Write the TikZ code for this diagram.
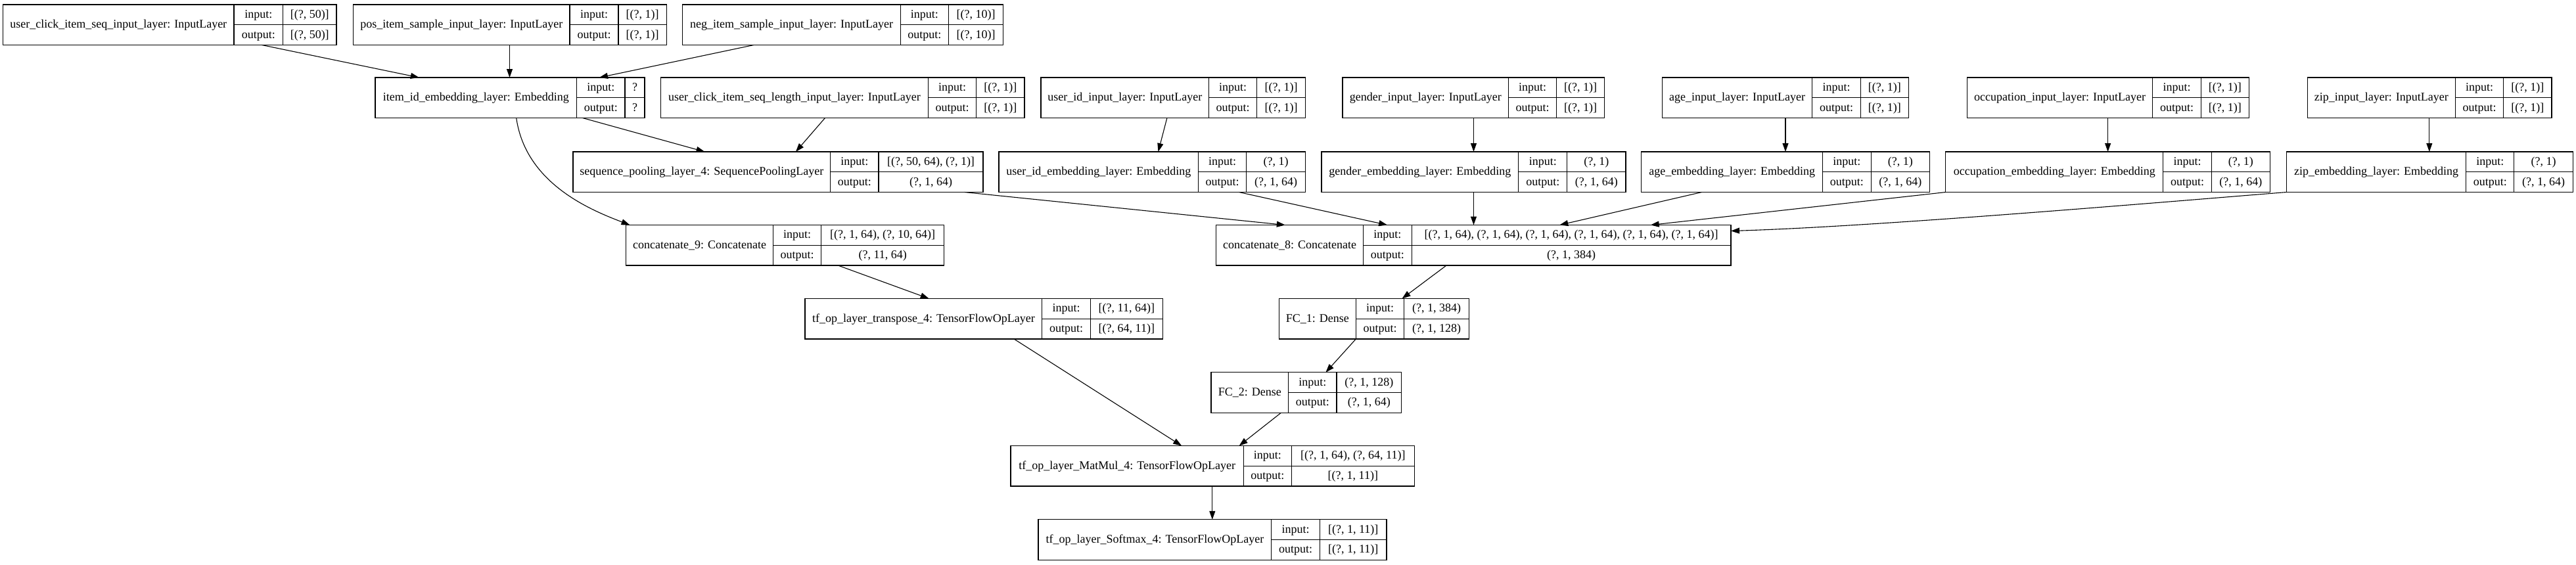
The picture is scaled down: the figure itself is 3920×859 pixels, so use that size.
\documentclass[tikz,border=0pt]{standalone}
\usepackage{fontspec}
\setmainfont{Liberation Serif}
\usetikzlibrary{calc,arrows.meta}
\tikzset{
  boxnode/.style={draw=black, line width=0.65pt, inner sep=0pt, outer sep=0pt, minimum height=30.75pt, fill=white},
  cellline/.style={draw=black, line width=0.55pt},
  txt/.style={inner sep=0pt, outer sep=0pt, text height=6.6pt, text depth=1.8pt, font=\fontsize{9pt}{11pt}\selectfont},
  edge/.style={draw=black, line width=0.55pt, -{Triangle[length=6.5pt,width=4.5pt]}}
}
\newcommand\lyr[9]{%
  \pgfmathsetmacro\lyrW{(#5-#2)*0.5}%
  \pgfmathsetmacro\lyrB{#6+61.5}%
  \pgfmathsetmacro\lyrM{#6+30.75}%
  \pgfmathsetmacro\lyrXa{(#2+#3)/2}%
  \pgfmathsetmacro\lyrXb{(#3+#4)/2}%
  \pgfmathsetmacro\lyrXc{(#4+#5)/2}%
  \pgfmathsetmacro\lyrIn{#6+15.6}%
  \pgfmathsetmacro\lyrOut{#6+46.2}%
  \node[boxnode, minimum width=\lyrW pt, anchor=north west] (#1) at (#2,#6) {};
  \draw[cellline] (#3,#6) -- (#3,\lyrB);
  \draw[cellline] (#4,#6) -- (#4,\lyrB);
  \draw[cellline] (#3,\lyrM) -- (#5,\lyrM);
  \node[txt] (#1-name) at (\lyrXa,\lyrM) {#7};
  \node[txt] (#1-ik) at (\lyrXb,\lyrIn) {input:};
  \node[txt] (#1-ok) at (\lyrXb,\lyrOut) {output:};
  \node[txt] (#1-iv) at (\lyrXc,\lyrIn) {#8};
  \node[txt] (#1-ov) at (\lyrXc,\lyrOut) {#9};
}
\begin{document}
\begin{tikzpicture}[x=0.5pt,y=-0.5pt]
\fill[white] (0,0) rectangle (3920,859);
\useasboundingbox (0,0) rectangle (3920,859);
% row 1
\lyr{U}{4.5}{356}{430.5}{512}{7}{user\_click\_item\_seq\_input\_layer: InputLayer}{[(?, 50)]}{[(?, 50)]}
\lyr{P}{537.6}{867}{941}{1014.4}{7}{pos\_item\_sample\_input\_layer: InputLayer}{[(?, 1)]}{[(?, 1)]}
\lyr{N}{1038.7}{1370.3}{1443.6}{1526.6}{7}{neg\_item\_sample\_input\_layer: InputLayer}{[(?, 10)]}{[(?, 10)]}
% row 2
\lyr{E}{571}{877.6}{951}{981}{118}{item\_id\_embedding\_layer: Embedding}{?}{?}
\lyr{L}{1005.5}{1412.4}{1485.7}{1559}{118}{user\_click\_item\_seq\_length\_input\_layer: InputLayer}{[(?, 1)]}{[(?, 1)]}
\lyr{UI}{1584}{1839.7}{1912.4}{1986.8}{118}{user\_id\_input\_layer: InputLayer}{[(?, 1)]}{[(?, 1)]}
\lyr{GI}{2043}{2295.5}{2368.8}{2441.5}{118}{gender\_input\_layer: InputLayer}{[(?, 1)]}{[(?, 1)]}
\lyr{AI}{2529.5}{2757.8}{2831.2}{2904.5}{118}{age\_input\_layer: InputLayer}{[(?, 1)]}{[(?, 1)]}
\lyr{OI}{2993.3}{3275.9}{3349.2}{3422.6}{118}{occupation\_input\_layer: InputLayer}{[(?, 1)]}{[(?, 1)]}
\lyr{ZI}{3511.2}{3736.3}{3809.7}{3883}{118}{zip\_input\_layer: InputLayer}{[(?, 1)]}{[(?, 1)]}
% row 3
\lyr{S}{872}{1263.8}{1337}{1496}{231}{sequence\_pooling\_layer\_4: SequencePoolingLayer}{[(?, 50, 64), (?, 1)]}{(?, 1, 64)}
\lyr{UE}{1520}{1823.7}{1896.5}{1986.8}{231}{user\_id\_embedding\_layer: Embedding}{(?, 1)}{(?, 1, 64)}
\lyr{GE}{2011}{2310.8}{2384.7}{2474}{231}{gender\_embedding\_layer: Embedding}{(?, 1)}{(?, 1, 64)}
\lyr{AE}{2497.6}{2773.8}{2847.1}{2936.4}{231}{age\_embedding\_layer: Embedding}{(?, 1)}{(?, 1, 64)}
\lyr{OE}{2960.8}{3291.8}{3365.2}{3454.4}{231}{occupation\_embedding\_layer: Embedding}{(?, 1)}{(?, 1, 64)}
\lyr{ZE}{3479.3}{3752.9}{3825.6}{3915.5}{231}{zip\_embedding\_layer: Embedding}{(?, 1)}{(?, 1, 64)}
% row 4
\lyr{C9}{952.8}{1176.4}{1249.8}{1436.6}{342.5}{concatenate\_9: Concatenate}{[(?, 1, 64), (?, 10, 64)]}{(?, 11, 64)}
\lyr{C8}{1850.5}{2074.8}{2148.1}{2634}{342.5}{concatenate\_8: Concatenate}{[(?, 1, 64), (?, 1, 64), (?, 1, 64), (?, 1, 64), (?, 1, 64), (?, 1, 64)]}{(?, 1, 384)}
% row 5
\lyr{T}{1224.9}{1585.9}{1659.2}{1769.5}{454.5}{tf\_op\_layer\_transpose\_4: TensorFlowOpLayer}{[(?, 11, 64)]}{[(?, 64, 11)]}
\lyr{FC1}{1946.2}{2063.3}{2136.7}{2235.5}{454.5}{FC\_1: Dense}{(?, 1, 384)}{(?, 1, 128)}
% row 6
\lyr{FC2}{1842.9}{1960.9}{2034}{2132.8}{566.8}{FC\_2: Dense}{(?, 1, 128)}{(?, 1, 64)}
% row 7
\lyr{M}{1538}{1892.6}{1965.1}{2152.6}{678.5}{tf\_op\_layer\_MatMul\_4: TensorFlowOpLayer}{[(?, 1, 64), (?, 64, 11)]}{[(?, 1, 11)]}
% row 8
\lyr{SM}{1580.1}{1934.7}{2008.5}{2109.9}{790.8}{tf\_op\_layer\_Softmax\_4: TensorFlowOpLayer}{[(?, 1, 11)]}{[(?, 1, 11)]}
% edges
\draw[edge] ($(U.south west)+(394.1,0)$) -- ($(E.north west)+(66.8,0)$);
\draw[edge] ($(P.south west)+(237.9,0)$) -- ($(E.north west)+(204.5,0)$);
\draw[edge] ($(N.south west)+(108.3,0)$) -- ($(E.north west)+(341,0)$);
\draw[edge] ($(E.south west)+(315.5,0)$) -- ($(S.north west)+(200.5,0)$);
\draw[edge] ($(L.south west)+(250,0)$) -- ($(S.north west)+(338.9,0)$);
\draw[edge] ($(E.south west)+(214.7,0)$) .. controls (800,280) and (900,320) .. ($(C9.north west)+(5.7,0)$);
\draw[edge] ($(S.south west)+(595.9,0)$) -- ($(C8.north west)+(105.3,0)$);
\draw[edge] ($(C9.south west)+(322.5,0)$) -- ($(T.north west)+(188.8,0)$);
\draw[edge] ($(T.south west)+(318.2,0)$) -- ($(M.north west)+(260.2,0)$);
\draw[edge] ($(UI.south west)+(191.9,0)$) -- ($(UE.north west)+(242.5,0)$);
\draw[edge] ($(UE.south west)+(365.6,0)$) -- ($(C8.north west)+(260.6,0)$);
\draw[edge] ($(GI.south west)+(199.5,0)$) -- ($(GE.north west)+(231.5,0)$);
\draw[edge] ($(GE.south west)+(231.5,0)$) -- ($(C8.north west)+(392,0)$);
\draw[edge] ($(AI.south west)+(187.5,0)$) -- ($(AE.north west)+(219.4,0)$);
\draw[edge] ($(AE.south west)+(91.9,0)$) -- ($(C8.north west)+(522.8,0)$);
\draw[edge] ($(OI.south west)+(214.3,0)$) -- ($(OE.north west)+(246.8,0)$);
\draw[edge] (OE.south west) -- ($(C8.north west)+(661.2,0)$);
\draw[edge] ($(ZI.south west)+(185.6,0)$) -- ($(ZE.north west)+(217.5,0)$);
\draw[edge] (ZE.south west) .. controls (3250,311) and (2850,345) .. ($(C8.north east)+(0,9)$);
\draw[edge] ($(C8.south west)+(350.5,0)$) -- ($(FC1.north west)+(187.3,0)$);
\draw[edge] ($(FC1.south west)+(117.1,0)$) -- ($(FC2.north west)+(174.5,0)$);
\draw[edge] ($(FC2.south west)+(106.5,0)$) -- ($(M.north west)+(347.6,0)$);
\draw[edge] ($(M.south west)+(306.8,0)$) -- ($(SM.north west)+(264.7,0)$);
\end{tikzpicture}
\end{document}
